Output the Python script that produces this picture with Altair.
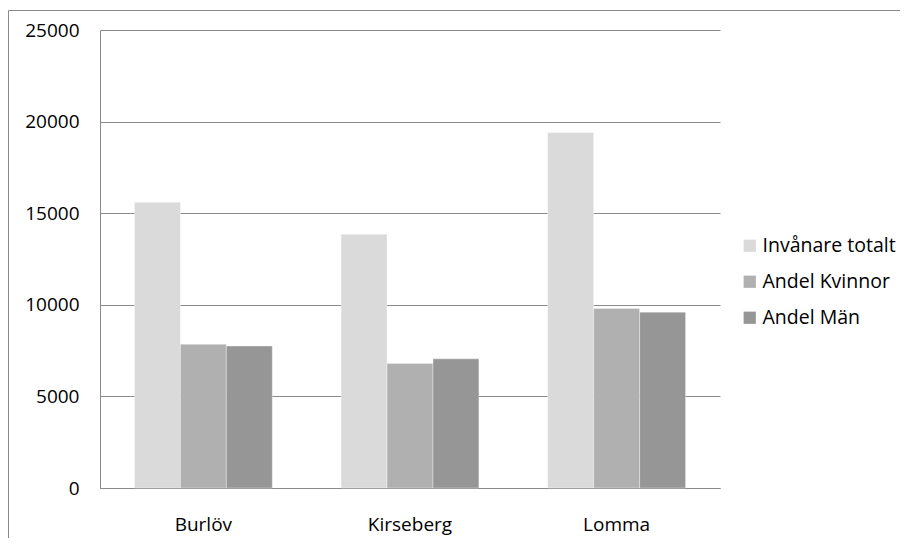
import altair as alt
import pandas as pd

kommuner = ["Burlöv", "Kirseberg", "Lomma"]
serier = ["Invånare totalt", "Andel Kvinnor", "Andel Män"]
totalt = [15600, 13850, 19400]
kvinnor = [7850, 6800, 9800]
man = [7750, 7050, 9600]
farger = ["#dadada", "#b0b0b0", "#969696"]
y_ticks = [0, 5000, 10000, 15000, 20000, 25000]

rows = []
for i, k in enumerate(kommuner):
    for s, vals in zip(serier, [totalt, kvinnor, man]):
        rows.append({"Kommun": k, "Serie": s, "Antal": vals[i]})
df = pd.DataFrame(rows)

border = alt.Chart(pd.DataFrame({"a": [0]})).mark_rect(
    fillOpacity=0, stroke="#8a8a8a", strokeWidth=1
).encode(
    x=alt.value(-91.5), x2=alt.value(830), y=alt.value(-19.5), y2=alt.value(560)
)

bars = alt.Chart(df).mark_bar(stroke="#ffffff", strokeOpacity=0.35, strokeWidth=1).encode(
    x=alt.X(
        "Kommun:N",
        sort=kommuner,
        scale=alt.Scale(paddingInner=0.333, paddingOuter=0.1667),
        axis=alt.Axis(
            title=None, labelAngle=0, ticks=False, labelPadding=27,
            labelFontSize=19, labelColor="#000000",
            domainColor="#8a8a8a", domainWidth=1,
        ),
    ),
    xOffset=alt.XOffset("Serie:N", sort=serier,
                        scale=alt.Scale(paddingInner=0, paddingOuter=0)),
    y=alt.Y(
        "Antal:Q",
        scale=alt.Scale(domain=[0, 25000], nice=False),
        axis=alt.Axis(
            title=None, values=y_ticks, format="d", ticks=False,
            labelPadding=21, labelFontSize=19, labelColor="#000000",
            gridColor="#8a8a8a", gridWidth=1,
            domainColor="#8a8a8a", domainWidth=1,
        ),
    ),
    color=alt.Color(
        "Serie:N",
        sort=serier,
        scale=alt.Scale(domain=serier, range=farger),
        legend=alt.Legend(
            title=None, orient="none", legendX=640, legendY=206,
            symbolType="square", symbolSize=150, symbolStrokeWidth=0,
            labelFontSize=19.5, labelColor="#000000", rowPadding=15,
            labelOffset=3,
        ),
    ),
)

chart = alt.layer(border, bars).properties(
    width=620, height=458,
    autosize=alt.AutoSizeParams(type="none"),
    padding={"left": 92, "top": 22, "right": 180, "bottom": 50},
).configure(font="Open Sans").configure_view(stroke=None)

chart.save("out.html", embed_options={"renderer": "svg", "actions": False})
